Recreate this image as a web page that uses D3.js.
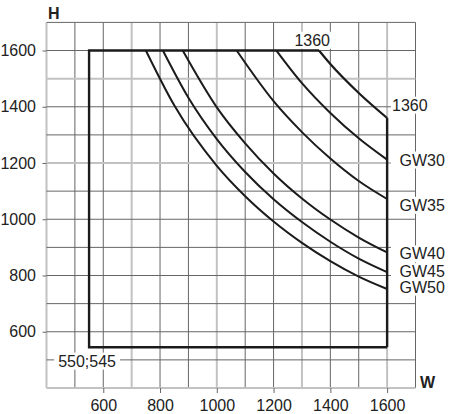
<!DOCTYPE html>
<html>
<head>
<meta charset="utf-8">
<script src="https://cdn.jsdelivr.net/npm/d3@7"></script>
<style>
  body { margin: 0; background: #fff; }
  text { font-family: "Liberation Sans", Arial, sans-serif; fill: #222; }
</style>
</head>
<body>
<div id="chart"></div>
<script>
// 1: DATA
const xTicks = [600, 800, 1000, 1200, 1400, 1600];
const yTicks = [600, 800, 1000, 1200, 1400, 1600];

// outer limit: W from 550 to 1600, H from 545 to 1600, corner cut at 1360
const outlineW = [1600, 550, 550, 1360];
const outlineH = [545, 545, 1600, 1600];
const cornerW = [1360, 1400, 1500, 1600];
const cornerH = [1600, 1552, 1449, 1360];
const cornerEndW = [1600, 1600];
const cornerEndH = [1360, 545];

// GW curves
const gw30W = [1210, 1300, 1400, 1500, 1600];
const gw30H = [1600, 1484, 1378, 1288, 1212];
const gw35W = [1070, 1200, 1300, 1400, 1500, 1600];
const gw35H = [1600, 1420, 1310, 1216, 1136, 1072];
const gw40W = [880, 1000, 1100, 1200, 1300, 1400, 1500, 1600];
const gw40H = [1600, 1398, 1270, 1163, 1074, 999, 935, 882];
const gw45W = [810, 900, 1000, 1100, 1200, 1300, 1400, 1500, 1600];
const gw45H = [1600, 1432, 1285, 1168, 1071, 990, 920, 860, 812];
const gw50W = [750, 850, 1000, 1100, 1200, 1300, 1400, 1500, 1600];
const gw50H = [1600, 1405, 1190, 1082, 992, 916, 851, 796, 752];

// right-hand labels and where they sit (H value)
const rightLabels = ["1360", "GW30", "GW35", "GW40", "GW45", "GW50"];
const rightLabelH = [1406, 1211, 1050, 877, 814, 759];

// 2: SIZES AND SCALES
const svgW = 452, svgH = 414;
const x = d3.scaleLinear().domain([400, 1700]).range([46.5, 415.5]);
const y = d3.scaleLinear().domain([400, 1700]).range([388, 22.4]);

const svg = d3.select("#chart").append("svg")
    .attr("width", svgW)
    .attr("height", svgH);

// 3: GRID
const lightX = [400, 700, 1000, 1300, 1600];
const lightY = [400, 1200, 1500];
const gridVals = d3.range(400, 1701, 100);

const grid = svg.append("g");
grid.selectAll(".vx")
    .data(gridVals)
    .enter().append("line")
    .attr("x1", d => x(d)).attr("x2", d => x(d))
    .attr("y1", y(1700)).attr("y2", y(400))
    .attr("stroke", d => lightX.includes(d) ? "#c2c2c2" : "#666")
    .attr("stroke-width", d => lightX.includes(d) ? 2 : 1);

grid.selectAll(".hy")
    .data(gridVals)
    .enter().append("line")
    .attr("y1", d => y(d)).attr("y2", d => y(d))
    .attr("x1", x(400)).attr("x2", x(1700))
    .attr("stroke", d => lightY.includes(d) ? "#c2c2c2" : "#666")
    .attr("stroke-width", d => lightY.includes(d) ? 2 : 1);

// 4: AXES (ticks + labels only)
const xAxis = svg.append("g")
    .attr("transform", `translate(0,${y(400)})`)
    .call(d3.axisBottom(x).tickValues(xTicks).tickFormat(d3.format("d"))
        .tickSize(5).tickPadding(7));
const yAxis = svg.append("g")
    .attr("transform", `translate(${x(400)},0)`)
    .call(d3.axisLeft(y).tickValues(yTicks).tickFormat(d3.format("d"))
        .tickSize(4).tickPadding(6.5));

[xAxis, yAxis].forEach(a => {
    a.select(".domain").remove();
    a.selectAll(".tick line").attr("stroke", "#666");
    a.selectAll(".tick text")
        .style("font-family", '"Liberation Sans", Arial, sans-serif')
        .style("font-size", "16px")
        .attr("fill", "#222");
});

// 5: CURVES
const toPts = (ws, hs) => ws.map((w, i) => ({ w, h: hs[i] }));
const straight = d3.line().x(d => x(d.w)).y(d => y(d.h));
const smooth = d3.line().x(d => x(d.w)).y(d => y(d.h)).curve(d3.curveMonotoneX);

const marks = svg.append("g")
    .attr("fill", "none")
    .attr("stroke", "#1b1b1b")
    .attr("stroke-linejoin", "miter");

marks.append("path")
    .attr("d", straight(toPts(outlineW, outlineH)))
    .attr("stroke-width", 2.4);
marks.append("path")
    .attr("d", straight(toPts(cornerEndW, cornerEndH)))
    .attr("stroke-width", 2.4);
marks.append("path")
    .attr("d", smooth(toPts(cornerW, cornerH)))
    .attr("stroke-width", 2.2);

const gwSeries = [
    toPts(gw30W, gw30H), toPts(gw35W, gw35H), toPts(gw40W, gw40H),
    toPts(gw45W, gw45H), toPts(gw50W, gw50H)
];
marks.selectAll(".gw")
    .data(gwSeries)
    .enter().append("path")
    .attr("class", "gw")
    .attr("d", d => smooth(d))
    .attr("stroke-width", 2);

// 6: LABELS (white box behind each, as in the drawing)
function boxedLabel(tx, ty, str, anchor, padX, padLeft) {
    const g = svg.append("g");
    const t = g.append("text")
        .attr("x", tx).attr("y", ty)
        .attr("dy", "0.35em")
        .attr("text-anchor", anchor)
        .style("font-size", "16px")
        .text(str);
    const b = t.node().getBBox();
    const left = padLeft != null ? padLeft : b.x - padX;
    g.insert("rect", "text")
        .attr("x", left).attr("y", b.y)
        .attr("width", b.x + b.width + padX - left)
        .attr("height", b.height)
        .attr("fill", "#fff");
}

rightLabels.forEach((s, i) => {
    const tx = i === 0 ? 392 : 399.5;
    boxedLabel(tx, y(rightLabelH[i]), s, "start", 2, 391);
});
boxedLabel(x(1336), y(1637), "1360", "middle", 1);
boxedLabel(x(543), y(496), "550;545", "middle", 4);

// axis names
svg.append("text")
    .attr("x", 48).attr("y", 19)
    .style("font-size", "16px").style("font-weight", "bold")
    .text("H");
svg.append("text")
    .attr("x", 420).attr("y", 388)
    .style("font-size", "16px").style("font-weight", "bold")
    .text("W");
</script>
</body>
</html>
